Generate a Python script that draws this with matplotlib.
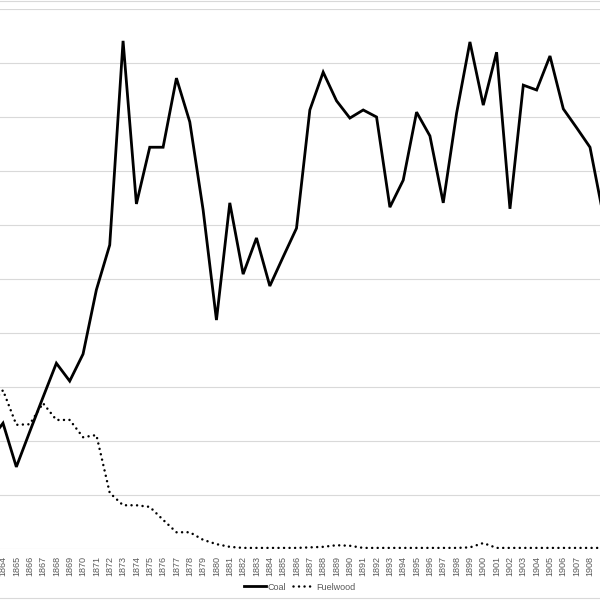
import numpy as np
import matplotlib
matplotlib.use("Agg")
from matplotlib import pyplot as plt
from matplotlib.lines import Line2D

years = list(range(1863, 1911))
coal = [20.0, 23.3, 15.2, 21.7, 28.1, 34.4, 31.1, 36.1, 48.0, 56.3,
        94.1, 63.9, 74.4, 74.4, 87.2, 79.1, 62.8, 42.4, 64.1, 50.9,
        57.6, 48.7, 54.1, 59.4, 81.3, 88.3, 83.0, 79.8, 81.3, 80.0,
        63.3, 68.3, 80.9, 76.5, 64.1, 80.7, 93.9, 82.2, 92.0, 63.0,
        85.9, 85.0, 91.3, 81.5, 78.0, 74.4, 61.7, 55.0]
fuelwood = [26.5, 29.4, 23.0, 23.1, 27.0, 23.9, 23.9, 20.7, 21.1, 10.4,
            8.1, 8.1, 7.8, 5.4, 3.1, 3.1, 1.7, 0.9, 0.4, 0.2,
            0.2, 0.2, 0.2, 0.2, 0.3, 0.4, 0.7, 0.6, 0.2, 0.2,
            0.2, 0.2, 0.2, 0.2, 0.2, 0.2, 0.3, 1.1, 0.2, 0.2,
            0.2, 0.2, 0.2, 0.2, 0.2, 0.2, 0.2, 0.2]
tick_years = list(range(1864, 1909))
grid_vals = np.arange(0, 101, 10)

fig = plt.figure(figsize=(6, 6), dpi=100)
# plot area: 1864 at px 3, 1908 at px 590, zero at y=549, 100 at y=9
ax = fig.add_axes([0, 51 / 600, 1, 540 / 600])

ax.set_yticks(grid_vals)
ax.yaxis.grid(True, color="#d9d9d9", linewidth=0.8)
ax.set_axisbelow(True)
ax.tick_params(axis="y", left=False, labelleft=False)
for s in ax.spines.values():
    s.set_visible(False)

ax.plot(years, coal, color="black", linewidth=2.0, label="Coal",
        solid_joinstyle="miter")
ax.plot(years, fuelwood, color="black", linewidth=1.8, linestyle=(0, (0.01, 2.2)),
        dash_capstyle="round", label="Fuelwood")

ax.set_xticks(tick_years)
ax.set_xticklabels([str(y) for y in tick_years], rotation=90, fontsize=6.5,
                   color="#595959", family="Liberation Sans")
ax.tick_params(axis="x", length=0, pad=5)

px_per_year = 587 / 44
ax.set_xlim(1864 - 3 / px_per_year, 1864 + 597 / px_per_year)
ax.set_ylim(0, 100)

fig.legend(loc="center", bbox_to_anchor=(0.5, 13 / 600), ncol=2, frameon=False,
           prop={"family": "Liberation Sans", "size": 6.5}, labelcolor="#595959",
           handlelength=2.4, columnspacing=0.8, handletextpad=0.2)

# chart border (top and bottom)
for yy in (599.5 / 600, 2 / 600):
    fig.add_artist(Line2D([0, 1], [yy, yy], transform=fig.transFigure,
                          color="#d9d9d9", linewidth=0.8))

fig.savefig("out.png", dpi=100)
